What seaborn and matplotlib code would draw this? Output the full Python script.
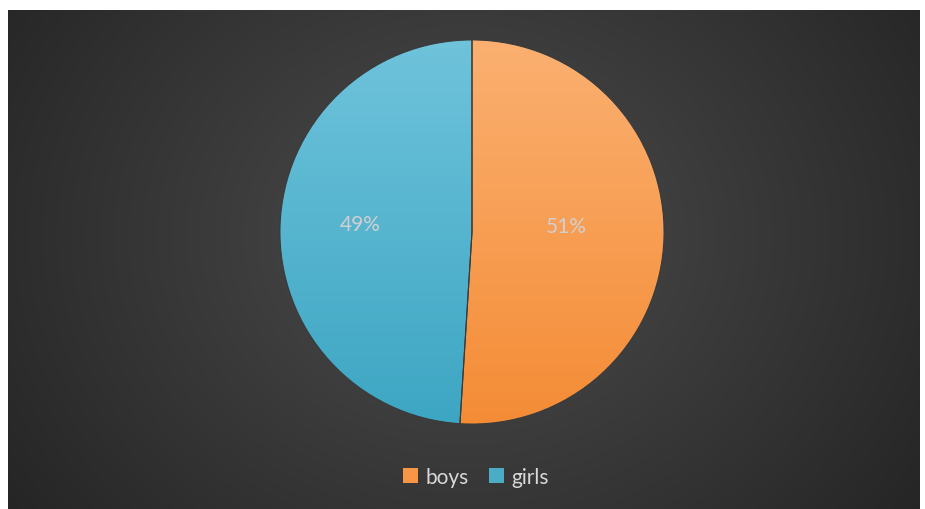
import numpy as np
import matplotlib
matplotlib.use("Agg")
import matplotlib.pyplot as plt
import seaborn as sns
from matplotlib.colors import LinearSegmentedColormap
from matplotlib.patches import Patch

categories = ["boys", "girls"]
values = [51, 49]
colors = ["#F79646", "#4BACC6"]
light_colors = ["#FBB071", "#6FC3DB"]
dark_colors = ["#F48C36", "#3DA6C3"]

sns.set_theme(style="white")
plt.rcParams["font.family"] = ["Lato", "DejaVu Sans"]

W, H = 925, 510
fig = plt.figure(figsize=(W / 100, H / 100), dpi=100)
fig.patch.set_facecolor("white")

# background panel with radial gradient
bg = fig.add_axes([8 / W, 0, 912 / W, 499 / H])
ny, nx = 250, 460
yy, xx = np.mgrid[0:ny, 0:nx]
cx, cy = nx * 0.5, ny * 0.45
d = np.sqrt(((xx - cx) / (nx * 0.62)) ** 2 + ((yy - cy) / (ny * 0.95)) ** 2)
d = np.clip(d, 0, 1)
v = 0.30 - 0.155 * d
img = np.dstack([v, v, v])
bg.imshow(img, aspect="auto", extent=[0, 1, 0, 1], interpolation="bilinear")
bg.set_xlim(0, 1)
bg.set_ylim(0, 1)
bg.axis("off")

# pie
r = 194
cxp, cyp = 472, 510 - 233
ax = fig.add_axes([(cxp - r) / W, (cyp - r) / H, 2 * r / W, 2 * r / H])
ax.set_facecolor("none")
wedges, texts, autotexts = ax.pie(
    values, colors=colors, startangle=90, counterclock=False,
    radius=1.0, autopct=lambda p: f"{p:.0f}%", pctdistance=0.55,
    textprops=dict(color="#D0D0D0", fontsize=15),
    wedgeprops=dict(edgecolor="#3a3a3a", linewidth=0.8),
)

# gradient fill clipped to each wedge
for w, lc, dc in zip(wedges, light_colors, dark_colors):
    cmap = LinearSegmentedColormap.from_list("g", [dc, lc])
    grad = np.linspace(0, 1, 256).reshape(-1, 1)
    im = ax.imshow(grad, cmap=cmap, origin="lower", extent=[-1, 1, -1, 1],
                   aspect="auto", zorder=w.get_zorder() + 0.1)
    im.set_clip_path(w)
    w.set_facecolor("none")
    w.set_zorder(w.get_zorder() + 0.2)

for t in autotexts:
    t.set_zorder(5)
# nudge labels as in reference
autotexts[0].set_position((autotexts[0].get_position()[0] - 0.06, 0.03))
autotexts[1].set_position((autotexts[1].get_position()[0] - 0.03, 0.04))

ax.set_xlim(-1.01, 1.01)
ax.set_ylim(-1.01, 1.01)
ax.set_aspect("equal")
ax.axis("off")

handles = [Patch(facecolor=c, edgecolor="none") for c in colors]
leg = fig.legend(handles, categories, loc="center", bbox_to_anchor=(476 / W, 1 - 478 / H),
                 ncol=2, frameon=False, fontsize=15, handlelength=0.7, handleheight=0.7,
                 handletextpad=0.35, columnspacing=1.0, labelcolor="#D9D9D9")

fig.savefig("out.png", dpi=100, facecolor=fig.get_facecolor())
